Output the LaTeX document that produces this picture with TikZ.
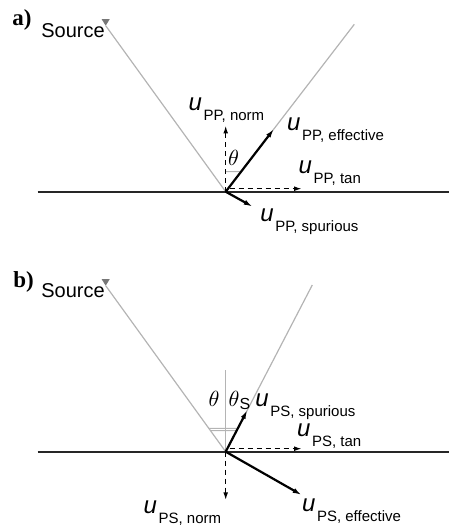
\documentclass[tikz,border=0pt]{standalone}
\usepackage{fontspec}
\setmainfont{Liberation Serif}
\setsansfont{Liberation Sans}
\usepackage{tikz}
\usetikzlibrary{arrows.meta,calc}
\definecolor{RayGray}{HTML}{B4B4B4}
\definecolor{MarkGray}{HTML}{777777}
\definecolor{SurfBlack}{HTML}{262626}
\newcommand{\ulab}[1]{{\fontsize{12}{12}\selectfont\itshape u}\kern0.8pt\raisebox{-5pt}{\fontsize{7.5}{8}\selectfont #1}}

\tikzset{
    ray/.style={RayGray, line width=0.6pt},
    surface/.style={SurfBlack, line width=1.1pt},
    vec/.style={-{Latex[length=4.5pt,width=2.6pt]}, black, line width=1.1pt},
    comp/.style={-{Latex[length=3.8pt,width=2.4pt]}, black, line width=0.65pt, dash pattern=on 2.5pt off 2pt},
    anglemark/.style={RayGray, line width=0.5pt},
    ulabel/.style={font=\sffamily, inner sep=0pt, anchor=base west},
    panellabel/.style={font=\fontsize{11.5}{12}\selectfont\bfseries, inner sep=0pt, anchor=base west},
    srclabel/.style={font=\fontsize{10}{12}\selectfont\sffamily, inner sep=0pt, anchor=base west},
    anglelabel/.style={font=\fontsize{11}{12}\selectfont, inner sep=0pt, anchor=base west}
}

\begin{document}
\begin{tikzpicture}[x=0.5pt, y=0.5pt]
    \useasboundingbox (0,0) rectangle (449,527);

    % Panel a: PP reflection
    \begin{scope}[shift={(225.7,335.3)}]
        \node[panellabel] (labA) at (-213.7,166.7) {a)};
        \node[srclabel] (srcTextA) at (-184.7,154.7) {Source};

        % Source marker and rays
        \coordinate (Oa) at (0,0);
        \coordinate (srcA) at (-120,166);
        \fill[MarkGray] (-124,172.5) -- (-116,172.5) -- (srcA) -- cycle;
        \coordinate (rayA) at (128.6,167.4);
        \draw[ray] (srcA) -- (Oa) -- (rayA);

        % Surface
        \coordinate (surfAl) at (-188,0);
        \coordinate (surfAr) at (223.3,0);
        \draw[surface] (surfAl) -- (surfAr);

        % Angle mark
        \draw[anglemark] (0,20) -- ($(Oa)!0.1195!(rayA)$);
        \node[anglelabel] (thetaA) at (2,26) {$\theta$};

        % Components
        \coordinate (normA) at (0,66);
        \draw[comp] (Oa) -- (normA);
        \coordinate (tanAs) at (4,3);
        \coordinate (tanA) at (76,3);
        \draw[comp] (tanAs) -- (tanA);

        % Vectors
        \coordinate (effA) at ($(Oa)!0.375!(rayA)$);
        \draw[vec] (Oa) -- (effA);
        \coordinate (spurA) at (27,-15);
        \draw[vec] (Oa) -- (spurA);

        % Labels
        \node[ulabel] (uNormA) at (-37.4,81.7) {\ulab{PP, norm}};
        \node[ulabel] (uEffA) at (61,61.7) {\ulab{PP, effective}};
        \node[ulabel] (uTanA) at (72.6,18.4) {\ulab{PP, tan}};
        \node[ulabel] (uSpurA) at (34.3,-30) {\ulab{PP, spurious}};
    \end{scope}

    % Panel b: PS reflection
    \begin{scope}[shift={(225.7,75.3)}]
        \node[panellabel] (labB) at (-212.7,164.7) {b)};
        \node[srclabel] (srcTextB) at (-184.7,154.7) {Source};

        % Source marker and rays
        \coordinate (Ob) at (0,0);
        \coordinate (srcB) at (-120,166);
        \fill[MarkGray] (-124,172.5) -- (-116,172.5) -- (srcB) -- cycle;
        \coordinate (rayB) at (86.6,166.7);
        \draw[ray] (srcB) -- (Ob) -- (rayB);
        \coordinate (nrmB) at (0,81.7);
        \draw[ray] (Ob) -- (nrmB);

        % Surface
        \coordinate (surfBl) at (-188,0);
        \coordinate (surfBr) at (223.3,0);
        \draw[surface] (surfBl) -- (surfBr);

        % Angle marks
        \draw[anglemark] ($(Ob)!0.141!(srcB)$) -- ($(Ob)!0.1404!(rayB)$);
        \draw[anglemark] ($(Ob)!0.1265!(srcB)$) -- ($(Ob)!0.126!(rayB)$);
        \node[anglelabel] (thetaB) at (-17.4,45) {$\theta$};
        \node[anglelabel] (thetaSB) at (2.6,45) {$\theta$\raisebox{-1.5pt}{\fontsize{8}{8}\selectfont\sffamily S}};

        % Components
        \coordinate (normB) at (0,-48.3);
        \draw[comp] (Ob) -- (normB);
        \coordinate (tanBs) at (4,3);
        \coordinate (tanB) at (76,3);
        \draw[comp] (tanBs) -- (tanB);

        % Vectors
        \coordinate (spurB) at ($(Ob)!0.25!(rayB)$);
        \draw[vec] (Ob) -- (spurB);
        \coordinate (effB) at (76,-43.3);
        \draw[vec] (Ob) -- (effB);

        % Labels
        \node[ulabel] (uSpurB) at (29.3,45) {\ulab{PS, spurious}};
        \node[ulabel] (uTanB) at (71,15) {\ulab{PS, tan}};
        \node[ulabel] (uEffB) at (76,-60) {\ulab{PS, effective}};
        \node[ulabel] (uNormB) at (-82.4,-62) {\ulab{PS, norm}};
    \end{scope}
\end{tikzpicture}
\end{document}
